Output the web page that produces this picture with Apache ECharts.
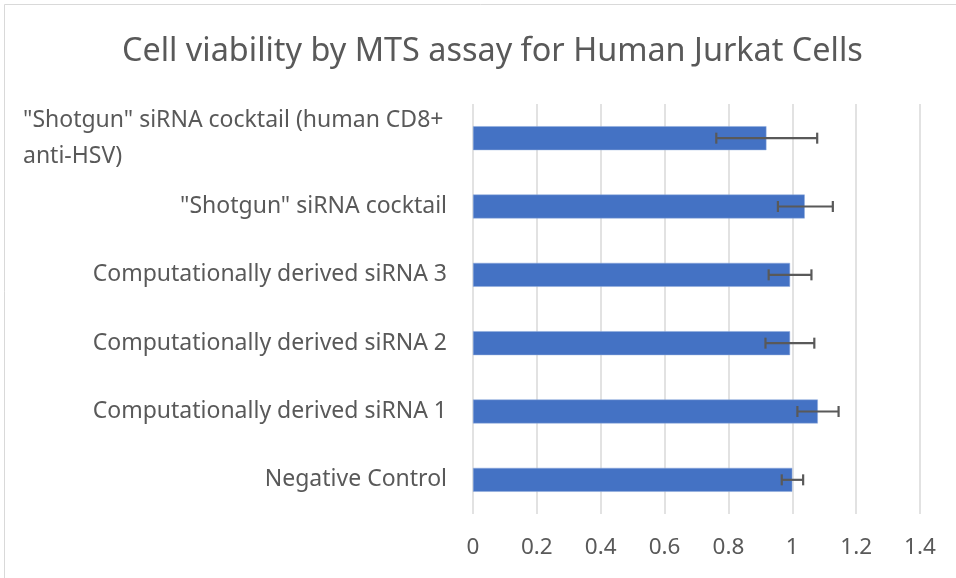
<!DOCTYPE html>
<html>
<head>
<meta charset="utf-8">
<script src="https://cdn.jsdelivr.net/npm/echarts@6/dist/echarts.min.js"></script>
<style>
  html, body { margin: 0; padding: 0; background: #fff; }
  #main { width: 956px; height: 578px; }
</style>
</head>
<body>
<div id="main"></div>
<script>
// bottom to top, as in the category axis
const categories = [
  'Negative Control',
  'Computationally derived siRNA 1',
  'Computationally derived siRNA 2',
  'Computationally derived siRNA 3',
  '"Shotgun" siRNA cocktail',
  '"Shotgun" siRNA cocktail (human CD8+\nanti-HSV)'
];
const viability = [1.0, 1.08, 0.993, 0.993, 1.039, 0.919];
const errLow = [0.967, 1.016, 0.916, 0.926, 0.955, 0.762];
const errHigh = [1.034, 1.145, 1.069, 1.060, 1.127, 1.078];
const xTicks = [0, 0.2, 0.4, 0.6, 0.8, 1, 1.2, 1.4];

const FONT = '"Noto Sans", sans-serif';
const grey = '#595959';

const chart = echarts.init(document.getElementById('main'));

const errData = categories.map((c, i) => [i, errLow[i], errHigh[i]]);

chart.setOption({
  animation: false,
  title: {
    text: 'Cell viability by MTS assay for Human Jurkat Cells',
    left: 117,
    top: 31,
    textStyle: { fontFamily: FONT, fontSize: 32.4, fontWeight: 'normal', color: grey }
  },
  graphic: [{
    type: 'rect',
    shape: { x: 4.5, y: 4.5, width: 1000, height: 1000 },
    style: { fill: 'none', stroke: '#d9d9d9', lineWidth: 1 },
    silent: true
  }],
  grid: { left: 473, right: 36, top: 104, bottom: 64, containLabel: false },
  xAxis: {
    type: 'value',
    min: 0,
    max: 1.4,
    interval: 0.2,
    axisLine: { show: false },
    axisTick: { show: false },
    splitLine: { show: true, lineStyle: { color: '#d9d9d9', width: 1.5 } },
    axisLabel: {
      margin: 22,
      fontFamily: FONT,
      fontSize: 22.5,
      color: grey,
      formatter: v => String(+v.toFixed(1))
    }
  },
  yAxis: {
    type: 'category',
    data: categories,
    axisLine: { show: false },
    axisTick: { show: false },
    axisLabel: {
      margin: 26,
      fontFamily: FONT,
      fontSize: 23,
      color: grey,
      lineHeight: 36,
      formatter: (v) => {
        if (v.indexOf('\n') >= 0) {
          return v.split('\n').map(s => '{l|' + s + '}').join('\n');
        }
        return v;
      },
      rich: {
        l: { width: 424, align: 'left', fontFamily: FONT, fontSize: 23, color: grey, lineHeight: 36 }
      }
    }
  },
  series: [
    {
      type: 'bar',
      data: viability,
      barWidth: '35%',
      itemStyle: { color: '#4472C4', borderColor: '#8faadc', borderWidth: 0.5 }
    },
    {
      type: 'custom',
      data: errData,
      encode: { y: 0, x: [1, 2] },
      z: 10,
      renderItem: (params, api) => {
        const yi = api.value(0);
        const lo = api.coord([api.value(1), yi]);
        const hi = api.coord([api.value(2), yi]);
        const cap = 5.5;
        const style = { stroke: grey, lineWidth: 2.2, fill: 'none' };
        return {
          type: 'group',
          children: [
            { type: 'line', shape: { x1: lo[0], y1: lo[1], x2: hi[0], y2: hi[1] }, style },
            { type: 'line', shape: { x1: lo[0], y1: lo[1] - cap, x2: lo[0], y2: lo[1] + cap }, style },
            { type: 'line', shape: { x1: hi[0], y1: hi[1] - cap, x2: hi[0], y2: hi[1] + cap }, style }
          ]
        };
      }
    }
  ]
});
</script>
</body>
</html>
